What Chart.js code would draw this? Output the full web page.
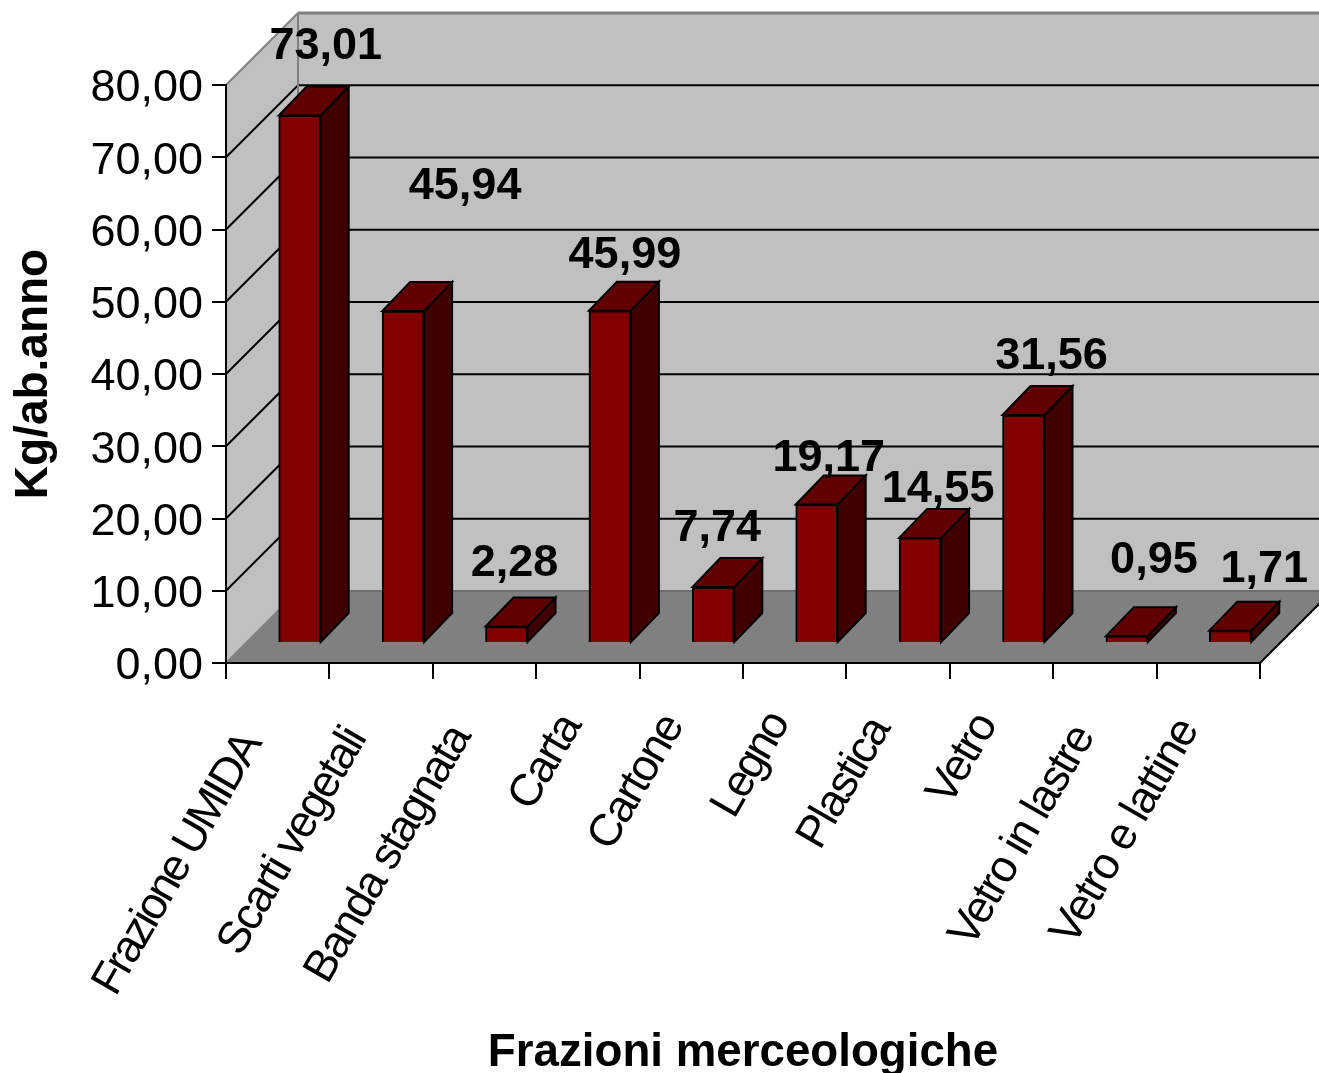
<!DOCTYPE html>
<html lang="it">
<head>
<meta charset="utf-8">
<title>Frazioni merceologiche</title>
<script src="https://cdn.jsdelivr.net/npm/chart.js@4/dist/chart.umd.min.js"></script>
<style>
  html, body { margin: 0; padding: 0; background: #fff; }
  canvas { display: block; }
</style>
</head>
<body>
<canvas id="chart" width="1319" height="1073"></canvas>
<script>
const categories = ['Frazione UMIDA', 'Scarti vegetali', 'Banda stagnata', 'Carta', 'Cartone', 'Legno', 'Plastica', 'Vetro', 'Vetro in lastre', 'Vetro e lattine'];
const values = [73.01, 45.94, 2.28, 45.99, 7.74, 19.17, 14.55, 31.56, 0.95, 1.71];
const yTicks = [0, 10, 20, 30, 40, 50, 60, 70, 80];

// where each value label sits relative to the top of its bar
const labelNudgeX = [26, 62, 8, 15, 4, 12, 18, 28, 27, 34];
const labelNudgeY = [-69, -124, -63, -55, -58, -46, -48, -58, -76, -61];

// the category labels are not placed evenly in the original
const catNudgeX = [0, 2, 3, 10, 9, 11, 9, 12, 6, 7];
const catNudgeY = [6, 0, -2, -13, -13, -15, -10, -14, -2, -9];
const catSpacing = [-2.9, -2, -2, -2, -2, -2.8, -2, -2, -2, -1.6];

const FONT = '"Liberation Sans", Arial, sans-serif';
const WALL_DEPTH = 72;   // walls and floor recede by this much
const BAR_SHIFT_X = 22;  // bars stand in the middle of the floor
const BAR_SHIFT_Y = 20;
const BAR_DEPTH_X = 28;
const BAR_DEPTH_Y = 29;

const fmt = v => v.toFixed(2).replace('.', ',');

function poly(ctx, pts, fill, stroke, lw) {
  ctx.beginPath();
  pts.forEach((p, i) => i ? ctx.lineTo(p[0], p[1]) : ctx.moveTo(p[0], p[1]));
  ctx.closePath();
  if (fill) { ctx.fillStyle = fill; ctx.fill(); }
  if (stroke) { ctx.strokeStyle = stroke; ctx.lineWidth = lw; ctx.stroke(); }
}

function line(ctx, x1, y1, x2, y2, color, lw) {
  ctx.beginPath();
  ctx.moveTo(x1, y1);
  ctx.lineTo(x2, y2);
  ctx.strokeStyle = color;
  ctx.lineWidth = lw;
  ctx.stroke();
}

// Left wall, back wall, floor and the gridlines
const wallsPlugin = {
  id: 'walls',
  beforeDraw(chart) {
    const { ctx, chartArea: a, scales: { y } } = chart;
    const d = WALL_DEPTH;
    ctx.save();
    poly(ctx, [[a.left + d, a.top - d], [a.right + d, a.top - d], [a.right + d, a.bottom - d], [a.left + d, a.bottom - d]], '#c0c0c0');
    poly(ctx, [[a.left, a.top], [a.left + d, a.top - d], [a.left + d, a.bottom - d], [a.left, a.bottom]], '#c0c0c0');
    poly(ctx, [[a.left, a.bottom], [a.left + d, a.bottom - d], [a.right + d, a.bottom - d], [a.right, a.bottom]], '#808080');

    yTicks.slice(1, -1).forEach(t => {
      const py = y.getPixelForValue(t);
      line(ctx, a.left, py, a.left + d, py - d, '#000', 2);
      line(ctx, a.left + d, py - d, a.right + d, py - d, '#000', 2);
    });

    // outer edges of the box
    line(ctx, a.left, a.top, a.left + d, a.top - d, '#808080', 2);
    line(ctx, a.left + d, a.top - d, a.right + d, a.top - d, '#808080', 3);
    line(ctx, a.left + d, a.top - d, a.left + d, a.bottom - d, '#808080', 2);
    line(ctx, a.left, a.bottom, a.left + d, a.bottom - d, '#808080', 2);
    line(ctx, a.left + d, a.bottom - d, a.right + d, a.bottom - d, '#6e6e6e', 2);
    line(ctx, a.right, a.bottom, a.right + d, a.bottom - d, '#000', 2);
    ctx.restore();
  }
};

// Moves the bars back on the floor and adds top and side faces
const barsPlugin = {
  id: 'bars3d',
  beforeDatasetDraw(chart, args) {
    const { ctx } = chart;
    const nx = BAR_DEPTH_X, ny = BAR_DEPTH_Y;
    ctx.save();
    ctx.translate(BAR_SHIFT_X, -BAR_SHIFT_Y);
    args.meta.data.forEach(bar => {
      const l = bar.x - bar.width / 2, r = bar.x + bar.width / 2;
      poly(ctx, [[r, bar.y], [r + nx, bar.y - ny], [r + nx, bar.base - ny], [r, bar.base]], '#400000', '#000', 2);
      poly(ctx, [[l, bar.y], [l + nx, bar.y - ny], [r + nx, bar.y - ny], [r, bar.y]], '#600000', '#000', 2);
    });
  },
  afterDatasetDraw(chart) {
    chart.ctx.restore();
  },
  afterDatasetsDraw(chart) {
    const { ctx } = chart;
    ctx.save();
    ctx.fillStyle = '#000';
    ctx.font = 'bold 45px ' + FONT;
    ctx.textAlign = 'center';
    ctx.textBaseline = 'middle';
    chart.getDatasetMeta(0).data.forEach((bar, i) => {
      ctx.fillText(fmt(values[i]), bar.x + BAR_SHIFT_X + labelNudgeX[i], bar.y - BAR_SHIFT_Y + labelNudgeY[i]);
    });
    ctx.restore();
  },
  // Excel squeezes the letters of the category labels, each one a bit differently
  afterUpdate(chart) {
    chart.scales.x.drawLabels = function (area) {
      const c = this.ctx;
      this.getLabelItems(area).forEach((item, i) => {
        const o = item.options;
        c.save();
        c.letterSpacing = catSpacing[i] + 'px';
        c.font = item.font.string;
        c.fillStyle = o.color;
        c.textAlign = o.textAlign;
        c.textBaseline = o.textBaseline;
        c.translate(o.translation[0] + catNudgeX[i], o.translation[1] + catNudgeY[i]);
        c.rotate(o.rotation);
        c.fillText(item.label, 0, item.textOffset);
        c.restore();
      });
    };
  }
};

function initChart() {
  new Chart(document.getElementById('chart'), {
    type: 'bar',
    data: {
      labels: categories,
      datasets: [{
        data: values,
        backgroundColor: '#800000',
        borderColor: '#000',
        borderWidth: 2,
        barThickness: 42,
        clip: false
      }]
    },
    plugins: [wallsPlugin, barsPlugin],
    options: {
      responsive: false,
      animation: false,
      layout: { padding: { top: 85, right: 59, left: 0, bottom: 0 } },
      plugins: { legend: { display: false }, tooltip: { enabled: false } },
      scales: {
        x: {
          offset: true,
          afterFit: s => { s.height = 410; },
          border: { color: '#000', width: 2 },
          grid: { offset: true, drawOnChartArea: false, color: '#000', tickLength: 16, lineWidth: 2 },
          ticks: {
            autoSkip: false,
            minRotation: 60,
            maxRotation: 60,
            labelOffset: -27,
            padding: 40,
            color: '#000',
            font: { family: FONT, size: 45 }
          },
          title: {
            display: true,
            text: 'Frazioni merceologiche',
            color: '#000',
            font: { family: FONT, size: 45.7, weight: 'bold' },
            padding: { top: 0, bottom: -8 }
          }
        },
        y: {
          min: 0,
          max: 80,
          afterFit: s => { s.width = 226; },
          afterBuildTicks: s => { s.ticks = yTicks.map(v => ({ value: v })); },
          border: { color: '#000', width: 2 },
          grid: { drawOnChartArea: false, color: '#000', tickLength: 14, lineWidth: 2 },
          ticks: {
            padding: 9,
            labelOffset: 4,
            color: '#000',
            font: { family: FONT, size: 45 },
            callback: v => fmt(v)
          },
          title: {
            display: true,
            text: 'Kg/ab.anno',
            color: '#000',
            font: { family: FONT, size: 46, weight: 'bold' },
            padding: { top: 7, bottom: 0 }
          }
        }
      }
    }
  });
}

document.addEventListener('DOMContentLoaded', initChart);
</script>
</body>
</html>
